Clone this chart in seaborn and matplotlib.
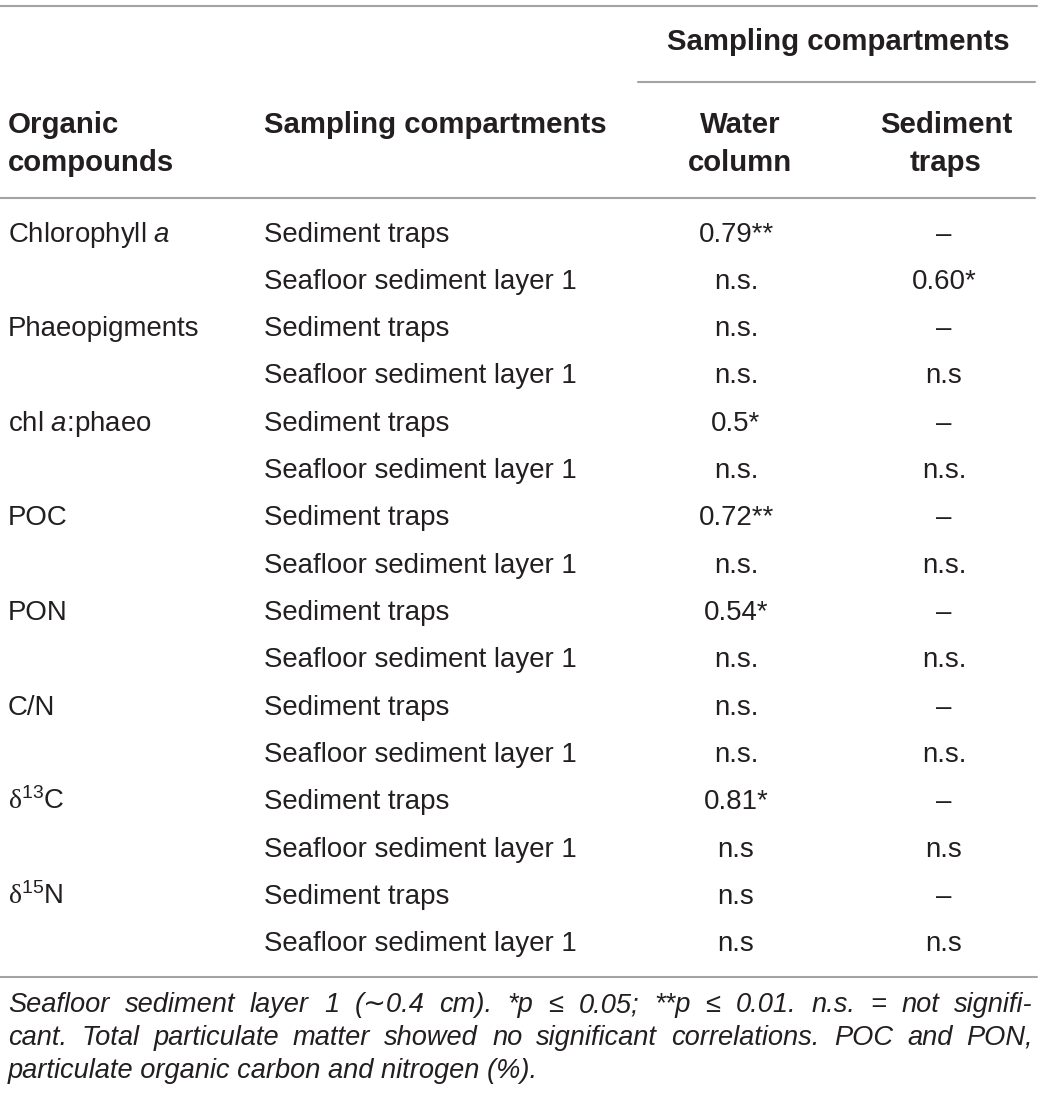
import matplotlib
matplotlib.use("Agg")
import matplotlib.pyplot as plt
import seaborn as sns

# table content
compounds = ["Chlorophyll $a$", "Phaeopigments", "chl $a$:phaeo", "POC", "PON", "C/N",
             r"$\mathsf{\delta}^{13}$C", r"$\mathsf{\delta}^{15}$N"]
compartments = ["Sediment traps", "Seafloor sediment layer 1"]
water_column = ["0.79**", "n.s.", "n.s.", "n.s.", "0.5*", "n.s.", "0.72**", "n.s.",
                "0.54*", "n.s.", "n.s.", "n.s.", "0.81*", "n.s", "n.s", "n.s"]
sediment_traps = ["–", "0.60*", "–", "n.s", "–", "n.s.", "–", "n.s.",
                  "–", "n.s.", "–", "n.s.", "–", "n.s", "–", "n.s"]
footnote = ["Seafloor sediment layer 1 (∼0.4 cm). *p ≤ 0.05; **p ≤ 0.01. n.s. = not signifi-",
            "cant. Total particulate matter showed no significant correlations. POC and PON,",
            "particulate organic carbon and nitrogen (%)."]

sns.set_theme(style="white")
plt.rcParams['font.family'] = ['Liberation Sans', 'DejaVu Sans']
plt.rcParams['mathtext.fontset'] = 'custom'
plt.rcParams['mathtext.rm'] = 'Liberation Sans'
plt.rcParams['mathtext.it'] = 'Liberation Sans:italic'
plt.rcParams['mathtext.bf'] = 'Liberation Sans:bold'
plt.rcParams['mathtext.sf'] = 'Liberation Serif'

W, H = 1041, 1102
fig = plt.figure(figsize=(W / 100, H / 100), dpi=100)
ax = fig.add_axes([0, 0, 1, 1])
ax.set_xlim(0, W)
ax.set_ylim(H, 0)
ax.axis("off")

txt = "#231f20"
rule = "#a3a3a3"
fs = 19.9
hfs = 21.2

# rules
ax.plot([0, 1037], [6, 6], color=rule, lw=1.5)
ax.plot([638, 1035], [82, 82], color=rule, lw=1.5)
ax.plot([0, 1035], [198, 198], color=rule, lw=1.5)
ax.plot([0, 1037], [977, 977], color=rule, lw=1.5)

# header
hd = dict(fontsize=hfs, fontweight="bold", color=txt, va="baseline")
ax.text(838, 50, "Sampling compartments", ha="center", **hd)
ax.text(8, 133, "Organic", **hd)
ax.text(8, 171, "compounds", **hd)
ax.text(264, 133, "Sampling compartments", **hd)
ax.text(740, 133, "Water", ha="center", **hd)
ax.text(740, 171, "column", ha="center", **hd)
ax.text(946, 133, "Sediment", ha="center", **hd)
ax.text(946, 171, "traps", ha="center", **hd)

# body rows
y0, dy = 241.5, 47.33
for i in range(len(water_column)):
    y = y0 + i * dy
    if i % 2 == 0:
        ax.text(8, y, compounds[i // 2], fontsize=fs, color=txt, va="baseline")
    ax.text(264, y, compartments[i % 2], fontsize=fs, color=txt, va="baseline")
    ax.text(736, y, water_column[i], fontsize=fs, color=txt, ha="center", va="baseline")
    ax.text(944, y, sediment_traps[i], fontsize=fs, color=txt, ha="center", va="baseline")

# footnote, justified except the last line
renderer = fig.canvas.get_renderer()
left, right = 8, 1033
for j, line in enumerate(footnote):
    y = 1012 + j * 33
    kw = dict(fontsize=19.6, style="italic", color=txt, va="baseline")
    if j == len(footnote) - 1:
        ax.text(left, y, line, **kw)
        continue
    words = line.split(" ")
    items = [ax.text(left, y, w, **kw) for w in words]
    widths = [t.get_window_extent(renderer).width for t in items]
    gap = (right - left - sum(widths)) / (len(words) - 1)
    x = left
    for t, w in zip(items, widths):
        t.set_x(x)
        x += w + gap

fig.savefig("out.png", dpi=100)
